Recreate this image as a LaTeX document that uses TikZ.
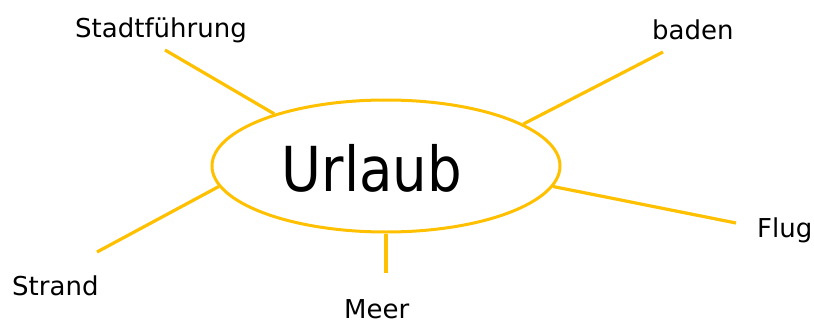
\documentclass[tikz,border=0pt]{standalone}
\usepackage{fontspec}
\setmainfont{DejaVu Sans}
\usetikzlibrary{shapes.geometric}
\definecolor{sun}{HTML}{FFC000}
\tikzset{
  spoke/.style={draw=sun, line width=3.2pt},
  word/.style={font=\fontsize{26}{28}\selectfont, text=black, inner sep=0pt, anchor=base west},
}
\begin{document}
\begin{tikzpicture}[x=1pt, y=-1pt]
  \useasboundingbox (0,0) rectangle (814,324);
  % central topic
  \node[ellipse, draw=sun, line width=3pt, minimum width=348pt, minimum height=132pt,
        inner sep=0pt] (u) at (386,166) {};
  \node[font=\fontsize{62}{66}\selectfont, inner sep=0pt, anchor=base] (t) at (372,191)
       {\scalebox{0.88}[1]{Urlaub}};
  % outer ends of the spokes
  \coordinate (e1) at (165,50);
  \coordinate (e2) at (663,52);
  \coordinate (e3) at (736,223);
  \coordinate (e4) at (386,273);
  \coordinate (e5) at (97,252);
  \draw[spoke] (u.155.9) -- (e1);
  \draw[spoke] (u.17.4) -- (e2);
  \draw[spoke] (u.-7.2) -- (e3);
  \draw[spoke] (u.270) -- (e4);
  \draw[spoke] (u.187.1) -- (e5);
  % labels
  \node[word] (l1) at (75,37) {Stadtführung};
  \node[word] (l2) at (652,39) {baden};
  \node[word] (l3) at (757,237) {Flug};
  \node[word] (l4) at (344,318) {Meer};
  \node[word] (l5) at (12,295) {Strand};
\end{tikzpicture}
\end{document}
